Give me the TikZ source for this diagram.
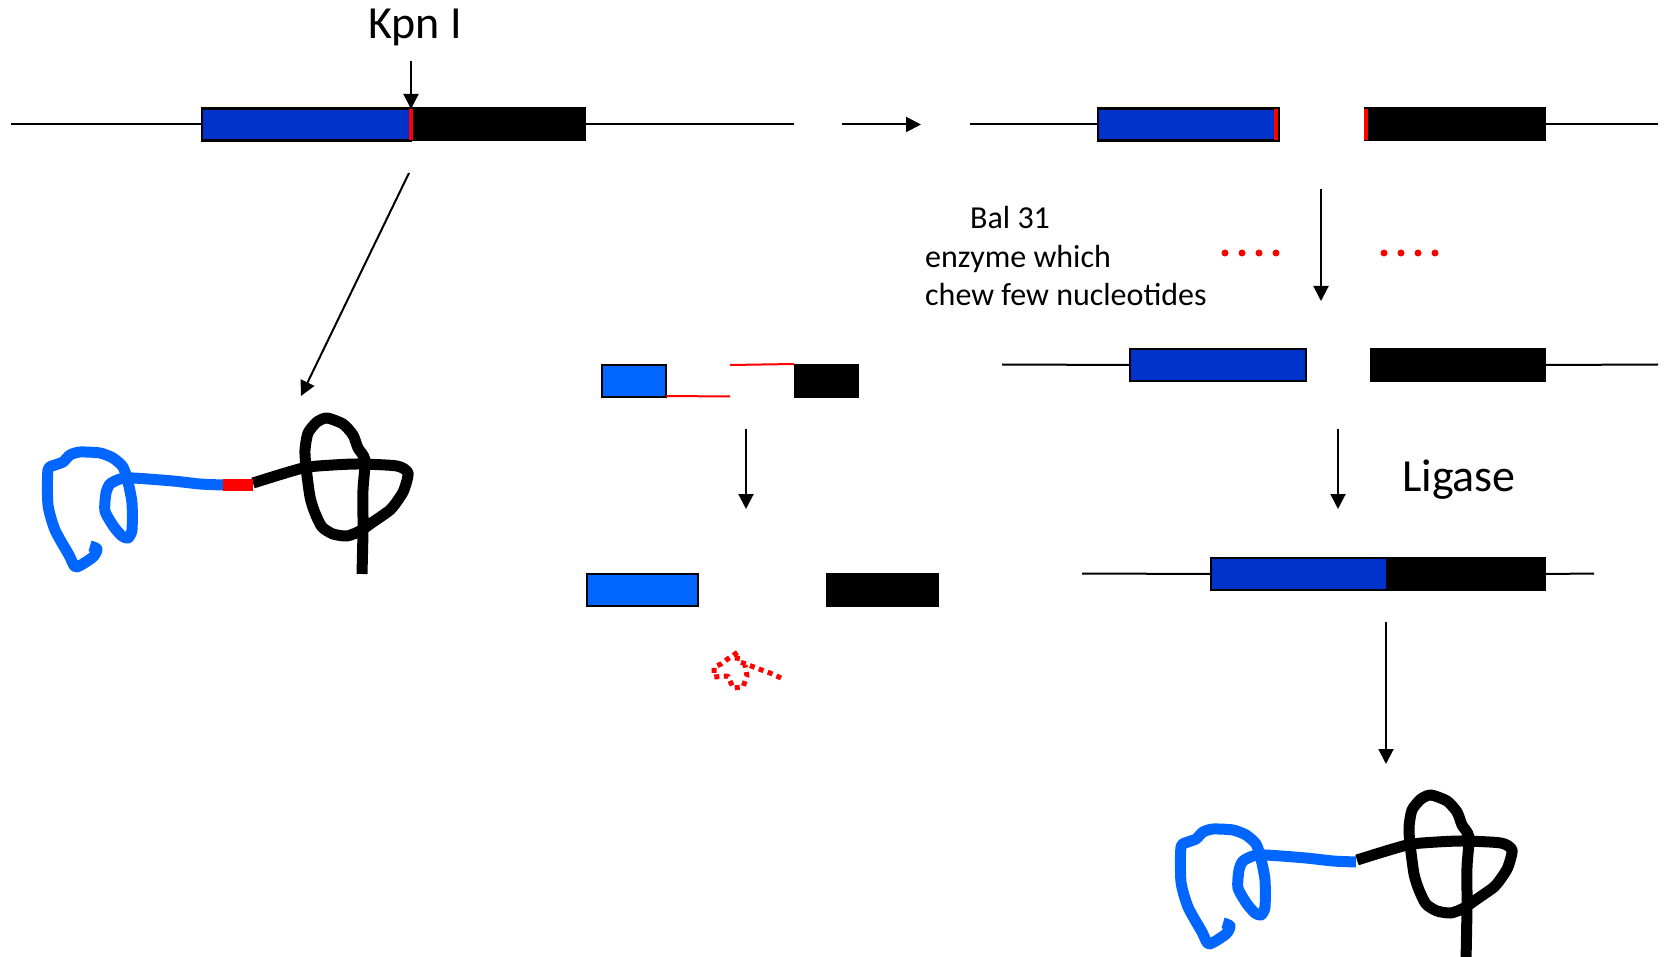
\documentclass[tikz,border=0pt]{standalone}
\usepackage{fontspec}
\setmainfont{Carlito}
\usetikzlibrary{arrows.meta}
\definecolor{geneblue}{RGB}{0,51,204}
\definecolor{lightblue}{RGB}{0,102,255}
\definecolor{cutred}{RGB}{255,0,0}

% hand-drawn protein chains (blue domain and black domain)
\newcommand\bluestrand{%
  \draw[chain, lightblue] plot[smooth, tension=0.4] coordinates {
    (90,546) (97,549) (93,557) (76,567) (69,555) (55,530) (48,505) (48,470)
    (55,465) (63,462) (70,455) (80,452) (100,453) (113,458) (123,467)
    (128,482) (132,503) (132,530) (128,538) (122,536) (114,527) (105,511)
    (106,493) (110,484) (120,479) (133,478) (173,481) (200,484) (223,485)};}
% #1: lower end of the stem
\newcommand\blackstrand[1]{%
  \draw[chain, black] plot[smooth, tension=0.4] coordinates {
    (253,483) (303,468) (333,465) (360,464) (397,466) (408,473) (404,490)
    (398,500) (390,510) (373,522) (360,531) (347,536) (333,534) (322,527)
    (315,513) (310,497) (306,467) (305,450) (308,433) (317,422) (327,418)
    (343,424) (353,435) (358,448) (365,460) (363,490) (363,530) (362,#1)};}

\begin{document}
\begin{tikzpicture}[x=1pt,y=-1pt,
  dna/.style={line width=2pt, black},
  arr/.style={line width=2pt, black, -{Triangle[length=15pt,width=15pt]}},
  gbox/.style={rectangle, draw=black, line width=2.5pt, inner sep=0pt,
    outer sep=0pt, anchor=north west, minimum height=32pt},
  kbox/.style={rectangle, fill=black, inner sep=0pt, outer sep=0pt,
    anchor=north west, minimum height=34pt},
  stripe/.style={rectangle, fill=cutred, inner sep=0pt, outer sep=0pt,
    minimum width=4pt, minimum height=31pt},
  chain/.style={line width=11pt, line join=round},
  bigtext/.style={font=\fontsize{46}{52}\selectfont, inner sep=0pt},
  smalltext/.style={font=\fontsize{32}{38}\selectfont, inner sep=0pt, anchor=base west},
  dot/.style={circle, fill=cutred, inner sep=0pt, minimum size=7pt},
  redline/.style={cutred, line width=2pt}
]
\useasboundingbox (0,0) rectangle (1666,957);

% ---- uncut gene with the Kpn I site ----
\node[bigtext, anchor=base] (kpn) at (415,39) {Kpn I};
\node[gbox, fill=geneblue, minimum width=209pt] (b1) at (202,108.5) {};
\node[kbox, minimum width=175pt] (k1) at (411,107.5) {};
\node[stripe] (s1) at (411,124.5) {};
\coordinate (l1a) at (11,124.5);
\coordinate (l1b) at (794,124.5);
\draw[dna] (l1a) -- (b1.west);
\draw[dna] (k1.east) -- (l1b);
\coordinate (kpnarr) at (411,61);
\draw[arr] (kpnarr) -- (s1.north);

% step arrow to the cut gene
\coordinate (st1) at (842,124.5);
\coordinate (st2) at (921,124.5);
\draw[arr] (st1) -- (st2);

% ---- cut gene ----
\node[gbox, fill=geneblue, minimum width=181pt] (b2) at (1098,108.5) {};
\node[stripe] (s2) at (1276,124.5) {};
\node[kbox, minimum width=182pt] (k2) at (1364,107.5) {};
\node[stripe] (s3) at (1366,124.5) {};
\coordinate (l2a) at (970,124.5);
\coordinate (l2b) at (1658,124.5);
\draw[dna] (l2a) -- (b2.west);
\draw[dna] (k2.east) -- (l2b);

% diagonal arrow to the fused protein
\coordinate (dg1) at (409,173);
\coordinate (dg2) at (301,396);
\draw[arr] (dg1) -- (dg2);

% ---- Bal 31 digestion ----
\node[smalltext] (bal1) at (970,229) {Bal 31};
\node[smalltext] (bal2) at (925,268) {enzyme which};
\node[smalltext] (bal3) at (925,306) {chew few nucleotides};
\foreach \i/\x in {1/1225,2/1242,3/1259,4/1276}
  \node[dot] (da\i) at (\x,253) {};
\foreach \i/\x in {1/1384,2/1401,3/1418,4/1435}
  \node[dot] (db\i) at (\x,253) {};
\coordinate (va1) at (1321,189);
\coordinate (va2) at (1321,301);
\draw[arr] (va1) -- (va2);

% ---- trimmed gene ends ----
\node[gbox, fill=geneblue, minimum width=176pt] (b4) at (1130,349) {};
\node[kbox, minimum width=176pt] (k4) at (1370,348) {};
\coordinate (l4a) at (1002,364.5);
\coordinate (l4b) at (1658,364.5);
\draw[dna] (l4a) -- (b4.west);
\draw[dna] (k4.east) -- (l4b);

\coordinate (lg1) at (1338,429);
\coordinate (lg2) at (1338,509);
\draw[arr] (lg1) -- (lg2);
\node[bigtext, anchor=base west] (lig) at (1402,492) {Ligase};

% ---- ligated gene ----
\node[gbox, fill=geneblue, minimum width=176pt] (b6) at (1211,558) {};
\node[kbox, minimum width=160pt] (k6) at (1386,557) {};
\coordinate (l6a) at (1082,573.5);
\coordinate (l6b) at (1594,573.5);
\draw[dna] (l6a) -- (b6.west);
\draw[dna] (k6.east) -- (l6b);

\coordinate (pa1) at (1386,622);
\coordinate (pa2) at (1386,764);
\draw[arr] (pa1) -- (pa2);

% ---- overhang removal (middle) ----
\node[gbox, fill=lightblue, minimum width=64pt] (m1) at (602,365) {};
\node[kbox, minimum width=65pt] (m2) at (794,364) {};
\coordinate (ov1) at (730,396.5);
\coordinate (ov2) at (730,365);
\draw[redline] (m1.south east) ++(0,-1) -- (ov1);
\draw[redline] (ov2) -- (m2.north west);

\coordinate (ma1) at (746,429);
\coordinate (ma2) at (746,509);
\draw[arr] (ma1) -- (ma2);

\node[gbox, fill=lightblue, minimum width=111pt] (m3) at (587,574) {};
\node[kbox, minimum width=113pt] (m4) at (826,573) {};

% released nucleotides
\draw[cutred, line width=5pt, dash pattern=on 5pt off 4.5pt, line join=round]
  (781,678) -- (770,673) -- (759,669) -- (746,664) -- (737,661) -- (738,652)
  -- (729,658) -- (721,664) -- (714,667) -- (714,677) -- (728,676)
  -- (733,688) -- (743,687) -- (747,676) -- (745,665);

% ---- fused protein from the uncut gene ----
\bluestrand
\blackstrand{574}
\draw[cutred, line width=11pt] (223,485) -- (253,485);

% ---- protein from the ligated gene ----
\begin{scope}[shift={(1133,377)}]
  \bluestrand
\end{scope}
\begin{scope}[shift={(1104,377)}]
  \blackstrand{585}
\end{scope}
\end{tikzpicture}
\end{document}
